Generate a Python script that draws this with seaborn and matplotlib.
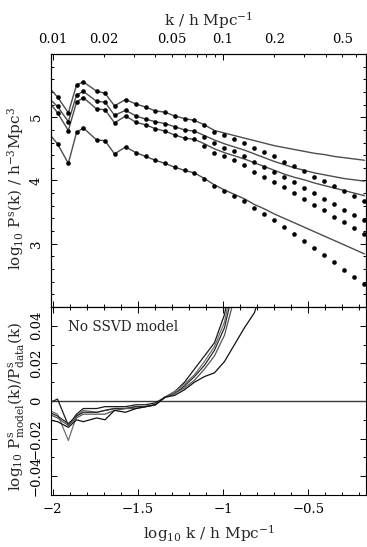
import numpy as np
import pandas as pd
import matplotlib
matplotlib.use("Agg")
import matplotlib.pyplot as plt
from matplotlib.ticker import MultipleLocator, FixedLocator
import seaborn as sns

# log10 k (h/Mpc) of the band powers
LOG_K = [-2.0205, -1.9707, -1.9073, -1.8592, -1.8194, -1.7408, -1.6921, -1.6364,
         -1.5718, -1.5103, -1.4534, -1.3971, -1.3402, -1.2833, -1.2258, -1.1672,
         -1.1085, -1.0499, -0.9912, -0.9326, -0.8739, -0.8152, -0.7566, -0.6979,
         -0.6393, -0.5806, -0.5220, -0.4633, -0.4047, -0.3460, -0.2874, -0.2287,
         -0.1701]

# measured log10 P^s(k) for the four samples
DATA_A = [5.47, 5.32, 5.07, 5.51, 5.56, 5.41, 5.38, 5.18, 5.28, 5.21, 5.16, 5.10,
          5.08, 5.02, 4.98, 4.95, 4.87, 4.76, 4.72, 4.66, 4.60, 4.52, 4.45, 4.38,
          4.30, 4.225, 4.146, 4.063, 3.985, 3.906, 3.827, 3.748, 3.668]
DATA_B = [5.30, 5.17, 4.93, 5.35, 5.41, 5.25, 5.24, 5.03, 5.11, 5.02, 4.97, 4.93,
          4.90, 4.85, 4.80, 4.78, 4.68, 4.60, 4.52, 4.46, 4.38, 4.29, 4.22, 4.14,
          4.05, 3.97, 3.88, 3.80, 3.71, 3.63, 3.54, 3.45, 3.37]
DATA_C = [5.25, 5.07, 4.79, 5.24, 5.31, 5.13, 5.12, 4.91, 5.02, 4.92, 4.88, 4.82,
          4.78, 4.72, 4.67, 4.65, 4.55, 4.44, 4.38, 4.32, 4.24, 4.14, 4.06, 3.98,
          3.89, 3.81, 3.71, 3.61, 3.53, 3.43, 3.34, 3.25, 3.16]
DATA_D = [4.74, 4.58, 4.27, 4.76, 4.83, 4.64, 4.63, 4.42, 4.53, 4.44, 4.38, 4.32,
          4.27, 4.21, 4.16, 4.12, 4.02, 3.91, 3.83, 3.76, 3.67, 3.56, 3.47, 3.37,
          3.27, 3.16, 3.05, 2.94, 2.83, 2.71, 2.59, 2.47, 2.36]

# model log10 P^s(k) for the same samples
MODEL_A = [5.47, 5.32, 5.07, 5.51, 5.56, 5.41, 5.38, 5.18, 5.28, 5.21, 5.16, 5.10,
           5.08, 5.02, 4.98, 4.95, 4.88, 4.79, 4.75, 4.71, 4.67, 4.63, 4.59, 4.55,
           4.52, 4.49, 4.46, 4.43, 4.41, 4.38, 4.36, 4.34, 4.32]
MODEL_B = [5.30, 5.17, 4.93, 5.35, 5.41, 5.25, 5.24, 5.03, 5.11, 5.02, 4.97, 4.93,
           4.90, 4.85, 4.80, 4.78, 4.71, 4.64, 4.58, 4.53, 4.48, 4.42, 4.36, 4.30,
           4.25, 4.20, 4.16, 4.12, 4.09, 4.06, 4.03, 4.01, 3.99]
MODEL_C = [5.25, 5.07, 4.79, 5.24, 5.31, 5.13, 5.12, 4.91, 5.02, 4.92, 4.88, 4.82,
           4.78, 4.72, 4.67, 4.65, 4.58, 4.50, 4.44, 4.39, 4.34, 4.28, 4.22, 4.16,
           4.10, 4.05, 4.01, 3.96, 3.92, 3.88, 3.84, 3.80, 3.76]
MODEL_D = [4.74, 4.58, 4.27, 4.76, 4.83, 4.64, 4.63, 4.42, 4.53, 4.44, 4.38, 4.32,
           4.27, 4.21, 4.16, 4.12, 4.03, 3.93, 3.85, 3.78, 3.71, 3.62, 3.55, 3.47,
           3.40, 3.33, 3.26, 3.19, 3.12, 3.05, 2.98, 2.91, 2.84]

# log10 P_model / P_data for each sample (lower panel)
RATIO_1 = [-0.001, 0.001, -0.013, -0.007, -0.004, -0.004, -0.003, -0.003, -0.003,
           -0.002, -0.002, -0.001, 0.002, 0.005, 0.010, 0.017, 0.024, 0.031, 0.046,
           0.075, 0.110]
RATIO_2 = [-0.005, -0.007, -0.021, -0.008, -0.005, -0.006, -0.005, -0.004, -0.004,
           -0.003, -0.003, -0.002, 0.002, 0.005, 0.009, 0.014, 0.021, 0.029, 0.042,
           0.068, 0.100]
RATIO_3 = [-0.006, -0.008, -0.012, -0.008, -0.006, -0.006, -0.005, -0.004, -0.004,
           -0.003, -0.003, -0.002, 0.002, 0.004, 0.008, 0.013, 0.019, 0.027, 0.039,
           0.062, 0.095]
RATIO_4 = [-0.007, -0.009, -0.013, -0.009, -0.007, -0.007, -0.007, -0.005, -0.004,
           -0.004, -0.003, -0.002, 0.002, 0.004, 0.007, 0.011, 0.017, 0.024, 0.035,
           0.055, 0.090]
RATIO_5 = [-0.010, -0.011, -0.014, -0.010, -0.011, -0.009, -0.010, -0.005, -0.006,
           -0.004, -0.003, -0.002, 0.002, 0.003, 0.006, 0.010, 0.013, 0.015, 0.021,
           0.030, 0.039, 0.047, 0.065]

# tick labels of the top (linear k) axis
K_LABELLED = [0.01, 0.02, 0.05, 0.1, 0.2, 0.5]
K_DECADES = [0.01, 0.1]
K_MINOR = [0.02, 0.03, 0.04, 0.05, 0.06, 0.07, 0.08, 0.09, 0.2, 0.3, 0.4, 0.5, 0.6]

SAMPLES = ["A", "B", "C", "D"]
DATA = [DATA_A, DATA_B, DATA_C, DATA_D]
MODELS = [MODEL_A, MODEL_B, MODEL_C, MODEL_D]
RATIOS = [RATIO_1, RATIO_2, RATIO_3, RATIO_4, RATIO_5]
RATIO_COLORS = ["#1a1a1a", "#6e6e6e", "#2a2a2a", "#555555", "#111111"]

# long-form tables
data_df = pd.concat([pd.DataFrame({"logk": LOG_K, "logP": v, "sample": s})
                     for s, v in zip(SAMPLES, DATA)], ignore_index=True)
model_df = pd.concat([pd.DataFrame({"logk": LOG_K, "logP": v, "sample": s})
                      for s, v in zip(SAMPLES, MODELS)], ignore_index=True)
ratio_df = pd.concat([pd.DataFrame({"logk": LOG_K[:len(v)], "ratio": v, "curve": f"r{i}"})
                      for i, v in enumerate(RATIOS)], ignore_index=True)

sns.set_theme(style="ticks", rc={"axes.edgecolor": "black", "axes.linewidth": 0.8,
                                 "xtick.color": "black", "ytick.color": "black"})
plt.rcParams["font.family"] = ["DejaVu Serif"]
plt.rcParams["mathtext.fontset"] = "dejavuserif"

W, H = 367, 547
fig = plt.figure(figsize=(W / 100, H / 100), dpi=100)
left, right = 51, 366
ax1 = fig.add_axes([left / W, 1 - 307 / H, (right - left) / W, 253 / H])
ax2 = fig.add_axes([left / W, 1 - 495 / H, (right - left) / W, 188 / H])

XLIM = (-2.009, -0.161)
LABEL_SIZE = 11

# upper panel: models as lines, measurements as dots
sns.lineplot(data=model_df, x="logk", y="logP", units="sample", estimator=None,
             color="#4d4d4d", lw=1.0, sort=False, ax=ax1, legend=False)
sns.scatterplot(data=data_df, x="logk", y="logP", color="black", s=11,
                linewidth=0, ax=ax1, legend=False, zorder=3)
ax1.set_xlim(*XLIM)
ax1.set_ylim(2, 6)
ax1.xaxis.set_major_locator(MultipleLocator(0.5))
ax1.xaxis.set_minor_locator(MultipleLocator(0.1))
ax1.yaxis.set_major_locator(FixedLocator([3, 4, 5]))
ax1.yaxis.set_minor_locator(MultipleLocator(0.2))
ax1.tick_params(axis="x", labelbottom=False)
ax1.set_xlabel("")
ax1.set_ylabel(r"log$_{10}$ P$^{\rm s}$(k) / h$^{-3}$Mpc$^3$", fontsize=LABEL_SIZE)
ax1.yaxis.set_label_coords(-0.078, 0.47)

# top axis in linear k
axt = ax1.twiny()
axt.set_xlim(*XLIM)
axt.set_xticks(np.log10(K_DECADES), labels=[f"{k:g}" for k in K_DECADES])
axt.set_xticks(np.log10(K_MINOR),
               labels=[f"{k:g}" if k in K_LABELLED else "" for k in K_MINOR], minor=True)
axt.set_xlabel(r"k / h Mpc$^{-1}$", fontsize=LABEL_SIZE, labelpad=5)

# lower panel: model/data ratio
ax2.axhline(0, color="#3a3a3a", lw=1.0)
sns.lineplot(data=ratio_df, x="logk", y="ratio", hue="curve", palette=RATIO_COLORS,
             estimator=None, lw=0.9, sort=False, ax=ax2, legend=False)
ax2.set_xlim(*XLIM)
ax2.set_ylim(-0.05, 0.05)
ax2.xaxis.set_minor_locator(MultipleLocator(0.1))
ax2.yaxis.set_major_locator(FixedLocator([-0.04, -0.02, 0, 0.02, 0.04]))
ax2.yaxis.set_minor_locator(MultipleLocator(0.01))
ax2.set_yticklabels(["\u22120.04", "\u22120.02", "0", "0.02", "0.04"])
ax2.set_xticks([-2, -1.5, -1, -0.5], labels=["\u22122", "\u22121.5", "\u22121", "\u22120.5"])
ax2.set_xlabel(r"log$_{10}$ k / h Mpc$^{-1}$", fontsize=LABEL_SIZE, labelpad=5)
ax2.set_ylabel(r"log$_{10}$ P$^{\rm s}_{\rm model}$(k)/P$^{\rm s}_{\rm data}$(k)",
               fontsize=LABEL_SIZE)
ax2.yaxis.set_label_coords(-0.078, 0.47)
ax2.text(0.054, 0.895, "No SSVD model", transform=ax2.transAxes, fontsize=9.8,
         va="center", ha="left")

for a in (ax1, ax2, axt):
    a.tick_params(which="both", direction="in", width=0.7, labelsize=9.5, pad=6)
    a.tick_params(which="major", length=4)
    a.tick_params(which="minor", length=2)
ax1.tick_params(which="both", left=True, right=True, bottom=True, top=False)
axt.tick_params(which="both", top=True, bottom=False, labeltop=True)
ax2.tick_params(which="both", left=True, right=True, bottom=True, top=True)

for a in (ax1, ax2):
    for lab in a.get_yticklabels():
        lab.set_rotation(90)
        lab.set_va("center")
        lab.set_ha("right")

fig.savefig("out.png", dpi=100)
